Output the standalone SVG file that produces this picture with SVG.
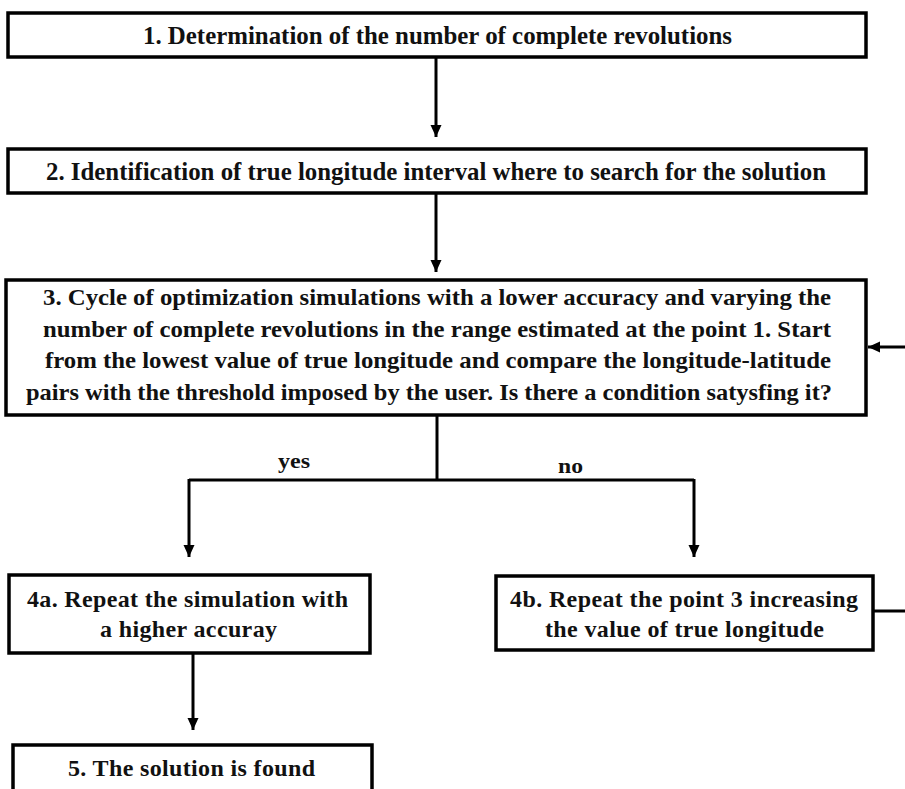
<svg xmlns="http://www.w3.org/2000/svg" width="905" height="789" viewBox="0 0 905 789">
<style>
.box{fill:#fff;stroke:#000;stroke-width:3.5}
.t{font-family:"Liberation Serif","Times New Roman",serif;font-weight:bold;fill:#111}
.c{fill:none;stroke:#000;stroke-width:3}
</style>
<defs>
<marker id="ah" markerUnits="userSpaceOnUse" markerWidth="13" markerHeight="12" refX="12" refY="6" orient="auto">
<path d="M0,0.5 L12,6 L0,11.5 z" fill="#000"/>
</marker>
</defs>
<rect width="905" height="789" fill="#fff"/>
<g id="connectors">
<line class="c" x1="436" y1="57" x2="436" y2="137" marker-end="url(#ah)"/>
<line class="c" x1="436" y1="193" x2="436" y2="272" marker-end="url(#ah)"/>
<polyline class="c" points="437,415 437,480"/>
<polyline class="c" points="189,480 694,480"/>
<line class="c" x1="189" y1="479" x2="189" y2="557" marker-end="url(#ah)"/>
<line class="c" x1="694" y1="479" x2="694" y2="557" marker-end="url(#ah)"/>
<line class="c" x1="193" y1="653" x2="193" y2="730" marker-end="url(#ah)"/>
<polyline class="c" points="873,611 910,611 910,347 868,347" marker-end="url(#ah)"/>
<text class="t" x="278" y="468" font-size="22" textLength="32" lengthAdjust="spacingAndGlyphs">yes</text>
<text class="t" x="558" y="473" font-size="22" textLength="25" lengthAdjust="spacingAndGlyphs">no</text>
</g>
<g id="node1">
<rect class="box" x="8" y="13" width="858" height="44"/>
<text class="t" x="143" y="44" font-size="26" textLength="589" lengthAdjust="spacingAndGlyphs">1. Determination of the number of complete revolutions</text>
</g>
<g id="node2">
<rect class="box" x="8" y="149" width="858" height="44"/>
<text class="t" x="46" y="180" font-size="26" textLength="780" lengthAdjust="spacingAndGlyphs">2. Identification of true longitude interval where to search for the solution</text>
</g>
<g id="node3">
<rect class="box" x="6" y="280" width="860" height="135"/>
<text class="t" x="43" y="305" font-size="24" textLength="788" lengthAdjust="spacingAndGlyphs">3. Cycle of optimization simulations with a lower accuracy and varying the</text>
<text class="t" x="43" y="337" font-size="24" textLength="788" lengthAdjust="spacingAndGlyphs">number of complete revolutions in the range estimated at the point 1. Start</text>
<text class="t" x="45" y="368" font-size="24" textLength="786" lengthAdjust="spacingAndGlyphs">from the lowest value of true longitude and compare the longitude-latitude</text>
<text class="t" x="26" y="400" font-size="24" textLength="806" lengthAdjust="spacingAndGlyphs">pairs with the threshold imposed by the user. Is there a condition satysfing it?</text>
</g>
<g id="node4a">
<rect class="box" x="9" y="575" width="361" height="78"/>
<text class="t" x="27" y="607" font-size="24" textLength="321" lengthAdjust="spacing">4a. Repeat the simulation with</text>
<text class="t" x="100" y="637" font-size="24" textLength="177" lengthAdjust="spacing">a higher accuray</text>
</g>
<g id="node4b">
<rect class="box" x="496" y="576" width="377" height="74"/>
<text class="t" x="510" y="607" font-size="24" textLength="348" lengthAdjust="spacing">4b. Repeat the point 3 increasing</text>
<text class="t" x="545" y="637" font-size="24" textLength="279" lengthAdjust="spacing">the value of true longitude</text>
</g>
<g id="node5">
<rect class="box" x="13" y="745" width="359" height="60"/>
<text class="t" x="68" y="776" font-size="24" textLength="247" lengthAdjust="spacing">5. The solution is found</text>
</g>
</svg>
